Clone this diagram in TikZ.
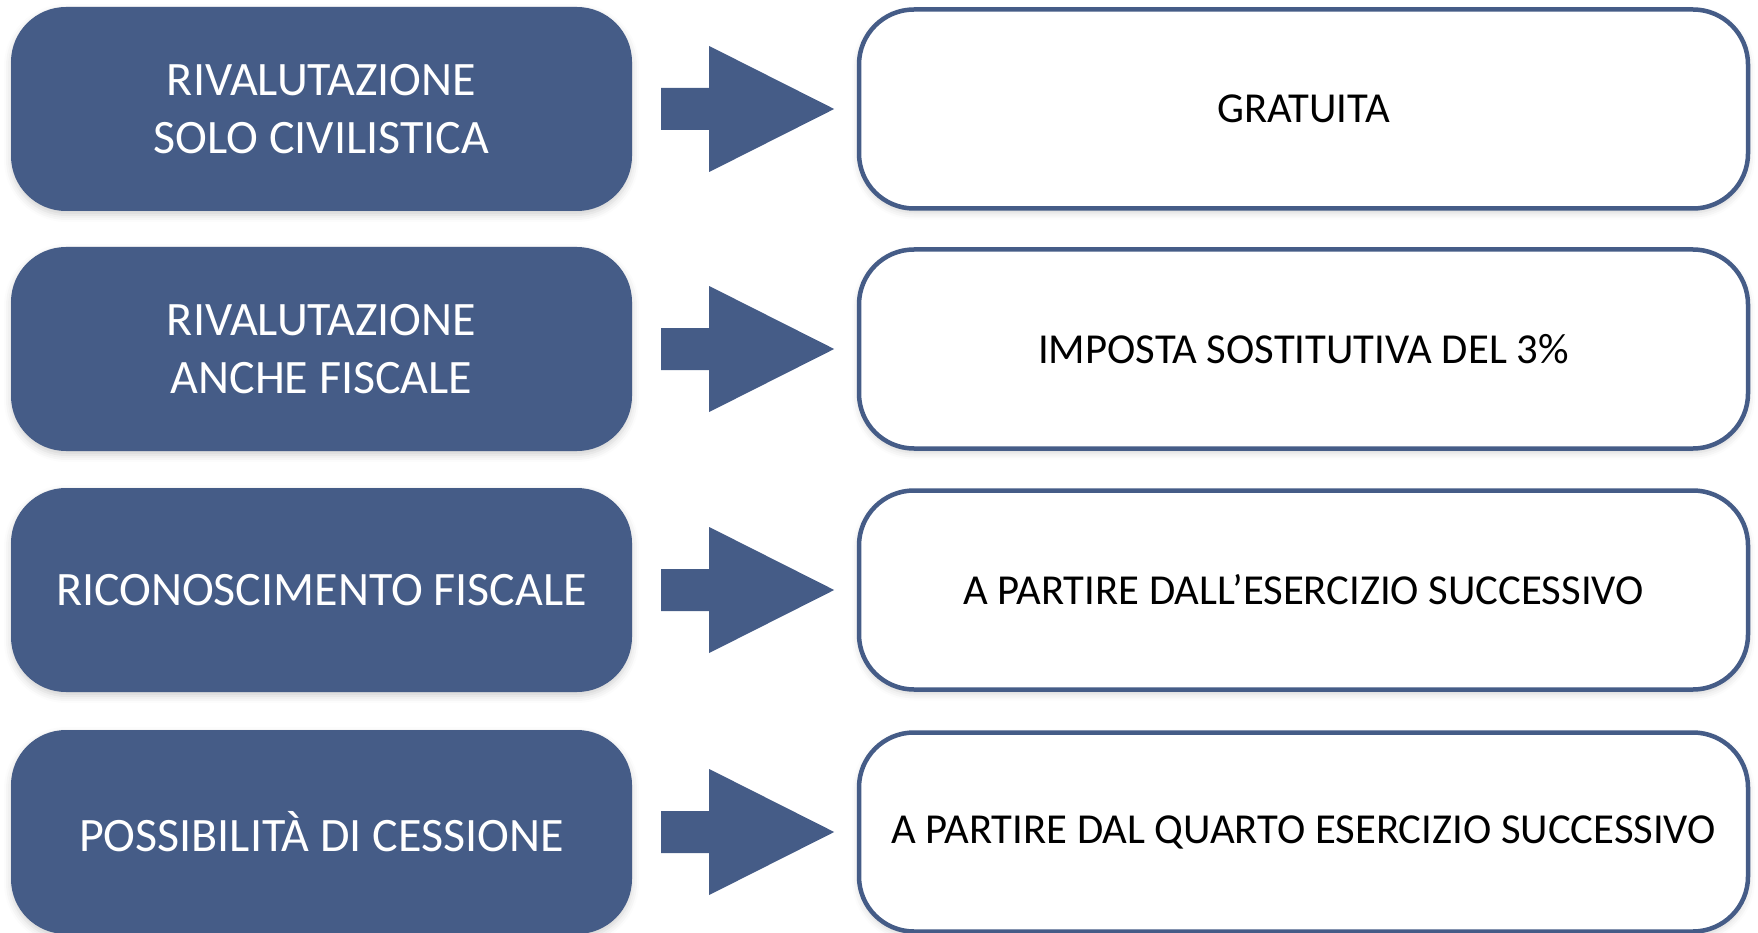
\documentclass[tikz,border=0pt]{standalone}
\usepackage{fontspec}
\setmainfont{Carlito}
\usetikzlibrary{calc,shadows.blur}
\definecolor{boxblue}{RGB}{69,92,135}
\tikzset{
  leftbox/.style={rectangle, rounded corners=55pt, fill=boxblue, draw=none,
    minimum width=621pt, minimum height=204pt, inner sep=0pt,
    text=white, align=center, font=\fontsize{48}{58}\selectfont,
    blur shadow={shadow xshift=0pt, shadow yshift=-4pt, shadow blur radius=7pt, shadow opacity=18}},
  rightbox/.style={rectangle, rounded corners=55pt, fill=white, draw=boxblue, line width=4.5pt,
    minimum width=889pt, minimum height=199pt, inner sep=0pt,
    text=black, align=center, font=\fontsize{42.7}{57}\selectfont,
    blur shadow={shadow xshift=0pt, shadow yshift=-4pt, shadow blur radius=7pt, shadow opacity=18}},
  blockarrow/.style={fill=boxblue}
}
\begin{document}
\begin{tikzpicture}[x=1pt,y=-1pt]
\useasboundingbox (0,0) rectangle (1758,933);
\foreach \i/\cy/\lt/\rt in {
  1/109/{RIVALUTAZIONE\\SOLO CIVILISTICA}/{GRATUITA},
  2/349/{RIVALUTAZIONE\\ANCHE FISCALE}/{IMPOSTA SOSTITUTIVA DEL 3\%},
  3/590/{RICONOSCIMENTO FISCALE}/{A PARTIRE DALL’ESERCIZIO SUCCESSIVO},
  4/832/{POSSIBILITÀ DI CESSIONE}/{A PARTIRE DAL QUARTO ESERCIZIO SUCCESSIVO}}{
  \node[leftbox] (L\i) at (321.5,\cy) {\lt};
  \node[rightbox] (R\i) at (1303.5,\cy) {\raisebox{-3pt}{\rt}};
  \fill[blockarrow] ($(L\i.east)+(29,-21)$) coordinate (A\i) -- ++(48,0) -- ++(0,-42)
     -- ($(L\i.east)+(202,0)$) coordinate (T\i) -- ++(-125,63) -- ++(0,-42) -- ++(-48,0) -- cycle;
}
\end{tikzpicture}
\end{document}
